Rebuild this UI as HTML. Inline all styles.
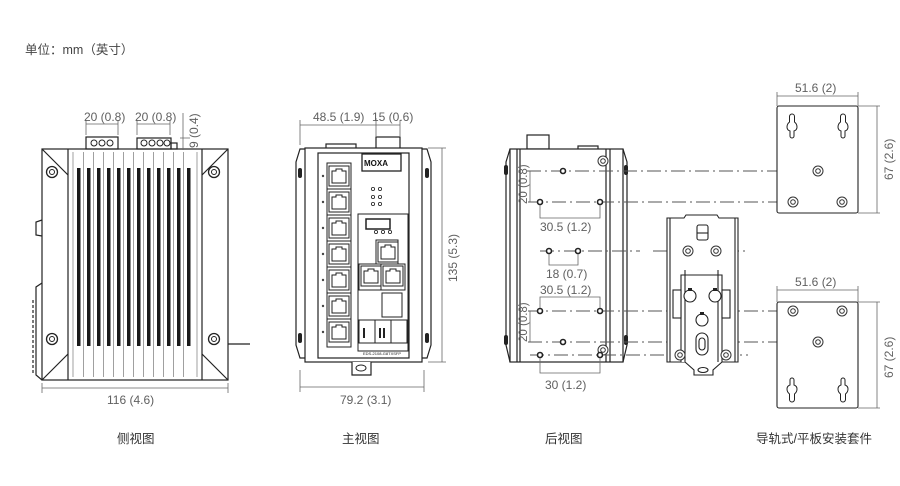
<!DOCTYPE html>
<html><head><meta charset="utf-8"><style>
html,body{margin:0;padding:0;background:#fff;}
svg{display:block;}
text{font-family:"Liberation Sans","Noto Sans CJK SC",sans-serif;fill:#606060;}
</style></head><body>
<svg width="900" height="486" viewBox="0 0 900 486" xmlns="http://www.w3.org/2000/svg">
<defs>
<g id="scr"><circle r="5.5" fill="#fff" stroke="#222" stroke-width="1.3"/><circle r="2.5" fill="none" stroke="#222" stroke-width="1"/></g>
<g id="scr2"><circle r="5" fill="#fff" stroke="#333" stroke-width="1"/><circle r="2.3" fill="none" stroke="#333" stroke-width="1"/></g>
<path id="rj" d="M0 0 H20 V20 H0 Z M3 5 H7 V3 H13 V5 H17 V17 H3 Z" fill="#fff" stroke="#222" stroke-width="1" fill-rule="evenodd"/>
<path id="key" d="M0 -12 a2.5 2.5 0 0 1 2.5 2.5 V-4 Q5 -2 5 1 Q5 4 2 5 V10 a2 2 0 0 1 -4 0 V5 Q-5 4 -5 1 Q-5 -2 -2.5 -4 V-9.5 A2.5 2.5 0 0 1 0 -12Z" fill="#fff" stroke="#222" stroke-width="1"/>
</defs>

<text x="25" y="54" font-size="12.5" style="fill:#444">单位：mm（英寸）</text>

<!-- ============ SIDE VIEW ============ -->
<g stroke="#222" fill="none" stroke-width="1.2">
 <rect x="42" y="149" width="186" height="231" fill="#fff"/>
 <line x1="68" y1="149" x2="68" y2="380"/>
 <line x1="202" y1="149" x2="202" y2="380"/>
 <path d="M42 149 L68 175 M228 149 L202 175 M42 380 L68 354 M228 380 L202 354"/>
 <path d="M42 220 L36 222 V235 L42 236" />
 <path d="M42 283 L36 287 V375 L42 380"/>
 <line x1="33" y1="300" x2="33" y2="375" stroke-dasharray="3 2"/>
 <rect x="86" y="137" width="32" height="12"/>
 <rect x="137" y="138" width="34" height="11"/>
 <rect x="171" y="143" width="6" height="6"/>
 <line x1="228" y1="344" x2="250" y2="344"/>
</g>
<g fill="none" stroke="#222" stroke-width="1">
 <circle cx="94" cy="143" r="3"/><circle cx="102" cy="143" r="3"/><circle cx="110" cy="143" r="3"/>
 <circle cx="144" cy="143" r="3"/><circle cx="152" cy="143" r="3"/><circle cx="160" cy="143" r="3"/><circle cx="167" cy="143" r="3"/>
</g>
<g fill="#1a1a1a">
 <rect x="77" y="168" width="3.5" height="178"/><rect x="87" y="168" width="3.5" height="178"/>
 <rect x="97" y="168" width="3.5" height="178"/><rect x="107" y="168" width="3.5" height="178"/>
 <rect x="117" y="168" width="3.5" height="178"/><rect x="127" y="168" width="3.5" height="178"/>
 <rect x="137" y="168" width="3.5" height="178"/><rect x="147" y="168" width="3.5" height="178"/>
 <rect x="157" y="168" width="3.5" height="178"/><rect x="167" y="168" width="3.5" height="178"/>
 <rect x="177" y="168" width="3.5" height="178"/><rect x="187" y="168" width="3.5" height="178"/>
</g>
<g stroke="#888" stroke-width="0.8">
 <line x1="73" y1="152" x2="73" y2="377"/><line x1="197" y1="152" x2="197" y2="377"/>
 <line x1="83.5" y1="152" x2="83.5" y2="377"/><line x1="93.5" y1="152" x2="93.5" y2="377"/>
 <line x1="103.5" y1="152" x2="103.5" y2="377"/><line x1="113.5" y1="152" x2="113.5" y2="377"/>
 <line x1="123.5" y1="152" x2="123.5" y2="377"/><line x1="133.5" y1="152" x2="133.5" y2="377"/>
 <line x1="143.5" y1="152" x2="143.5" y2="377"/><line x1="153.5" y1="152" x2="153.5" y2="377"/>
 <line x1="163.5" y1="152" x2="163.5" y2="377"/><line x1="173.5" y1="152" x2="173.5" y2="377"/>
 <line x1="183.5" y1="152" x2="183.5" y2="377"/>
</g>
<use href="#scr" x="52" y="172"/><use href="#scr" x="214" y="172"/>
<use href="#scr" x="52" y="339"/><use href="#scr" x="214" y="339"/>
<g stroke="#666" stroke-width="0.8" fill="none">
 <path d="M86 124 H118 M86 120 V135 M118 120 V135"/>
 <path d="M137 124 H170 M137 120 V135 M170 120 V135"/>
 <path d="M183 113 V150 M180 138 H190"/>
 <path d="M42 388 H228 M42 383 V393 M228 383 V393"/>
</g>
<text x="84" y="121" font-size="12">20 (0.8)</text>
<text x="135" y="121" font-size="12">20 (0.8)</text>
<text transform="translate(198,148) rotate(-90)" font-size="12">9 (0.4)</text>
<text x="107" y="404" font-size="12">116 (4.6)</text>

<!-- ============ FRONT VIEW ============ -->
<g stroke="#222" fill="#fff" stroke-width="1.2">
 <rect x="376" y="137" width="24" height="12"/>
 <rect x="326" y="144" width="30" height="5"/>
 <path d="M305 149 H300 L296 162 V345 L300 358 H305"/>
 <path d="M422 149 H427 L431 162 V345 L427 358 H422"/>
 <rect x="305" y="148" width="117" height="214"/>
 <rect x="318" y="153" width="91" height="205"/>
 <path d="M352 362 V375 H371 V362"/>
</g>
<ellipse cx="361" cy="368" rx="5" ry="3" fill="none" stroke="#222"/>
<g fill="#222"><rect x="298" y="168" width="4" height="10" rx="2"/><rect x="425" y="168" width="4" height="10" rx="2"/><rect x="298" y="333" width="4" height="10" rx="2"/><rect x="425" y="333" width="4" height="10" rx="2"/></g>
<g stroke="#222" fill="none" stroke-width="1">
 <rect x="327" y="163" width="24" height="184"/>
 <line x1="327" y1="189" x2="351" y2="189"/><line x1="327" y1="215" x2="351" y2="215"/><line x1="327" y1="241" x2="351" y2="241"/>
 <line x1="327" y1="267" x2="351" y2="267"/><line x1="327" y1="293" x2="351" y2="293"/><line x1="327" y1="319" x2="351" y2="319"/>
 <rect x="362" y="154" width="39" height="17" stroke-width="1.3"/>
 <rect x="358" y="214" width="50" height="137"/>
 <rect x="366" y="219" width="24" height="10" stroke-width="1.5"/>
 <rect x="376" y="240" width="22" height="24"/>
 <rect x="359" y="264" width="22" height="26"/><rect x="381" y="264" width="24" height="26"/>
 <rect x="382" y="293" width="20" height="24"/>
 <rect x="359" y="320" width="16" height="23"/><rect x="375" y="320" width="16" height="23"/><rect x="391" y="320" width="16" height="23"/>
</g>
<use href="#rj" x="329" y="166"/><use href="#rj" x="329" y="192"/><use href="#rj" x="329" y="218"/>
<use href="#rj" x="329" y="244"/><use href="#rj" x="329" y="270"/><use href="#rj" x="329" y="296"/><use href="#rj" x="329" y="322"/>
<use href="#rj" x="378" y="242"/>
<use href="#rj" x="361" y="266"/><use href="#rj" x="383" y="266"/>
<g fill="#222"><rect x="363" y="328" width="2" height="10"/><rect x="379" y="328" width="2" height="10"/><rect x="383" y="328" width="2" height="10"/></g>
<text x="364" y="166" font-size="8" font-weight="bold" style="fill:#111">MOXA</text>
<g fill="none" stroke="#222" stroke-width="0.8">
 <circle cx="373" cy="189" r="1.6"/><circle cx="380" cy="189" r="1.6"/>
 <circle cx="373" cy="197" r="1.6"/><circle cx="380" cy="197" r="1.6"/>
 <circle cx="373" cy="204" r="1.6"/><circle cx="380" cy="204" r="1.6"/>
 <circle cx="376" cy="232" r="1.6"/><circle cx="383" cy="232" r="1.6"/><circle cx="390" cy="232" r="1.6"/>
</g>
<g fill="#444"><circle cx="323" cy="176" r="1.2"/><circle cx="323" cy="202" r="1.2"/><circle cx="323" cy="228" r="1.2"/><circle cx="323" cy="254" r="1.2"/><circle cx="323" cy="280" r="1.2"/><circle cx="323" cy="306" r="1.2"/><circle cx="323" cy="332" r="1.2"/></g>
<text x="363" y="355" font-size="4" style="fill:#222">EDS-2108-G8TXSFP</text>
<g stroke="#666" stroke-width="0.8" fill="none">
 <path d="M300 125 H400 M300 120 V145 M376 118 V136 M400 120 V136"/>
 <path d="M442 148 V362 M428 148 H446 M428 362 H446"/>
 <path d="M300 387 H424 M300 370 V392 M424 370 V392"/>
</g>
<text x="313" y="121" font-size="12">48.5 (1.9)</text>
<text x="372" y="121" font-size="12">15 (0.6)</text>
<text transform="translate(457,282) rotate(-90)" font-size="12">135 (5.3)</text>
<text x="340" y="404" font-size="12">79.2 (3.1)</text>

<!-- ============ REAR VIEW ============ -->
<g stroke="#222" fill="#fff" stroke-width="1.2">
 <rect x="527" y="135" width="22" height="14"/>
 <rect x="578" y="146" width="20" height="4"/>
 <path d="M510 149 L506 162 V345 L510 362"/>
 <path d="M623 149 L627 162 V345 L623 362"/>
 <rect x="510" y="149" width="113" height="213"/>
 <line x1="517" y1="149" x2="517" y2="362"/><line x1="520" y1="149" x2="520" y2="362"/>
 <line x1="606" y1="149" x2="606" y2="362"/><line x1="610" y1="149" x2="610" y2="362"/>
</g>
<g fill="#222"><rect x="504" y="165" width="4" height="10" rx="2"/><rect x="624" y="165" width="4" height="10" rx="2"/><rect x="504" y="335" width="4" height="10" rx="2"/><rect x="624" y="335" width="4" height="10" rx="2"/></g>
<use href="#scr2" x="603" y="161"/>
<use href="#scr2" x="603" y="350"/>

<g stroke="#555" stroke-width="1" stroke-dasharray="14 4 2 4" fill="none">
 <line x1="527" y1="171" x2="828" y2="171"/>
 <line x1="528" y1="202" x2="855" y2="202"/>
 <line x1="540" y1="251" x2="640" y2="251"/>
 <line x1="653" y1="251" x2="748" y2="251"/>
 <line x1="528" y1="311" x2="855" y2="311"/>
 <line x1="528" y1="342" x2="828" y2="342"/>
 <line x1="530" y1="355" x2="748" y2="355"/>
</g>
<g fill="#fff" stroke="#222" stroke-width="1.6">
 <circle cx="563" cy="171" r="2.5"/><circle cx="540" cy="202" r="2.5"/><circle cx="600" cy="202" r="2.5"/>
 <circle cx="549" cy="251" r="2.5"/><circle cx="578" cy="251" r="2.5"/>
 <circle cx="540" cy="311" r="2.5"/><circle cx="600" cy="311" r="2.5"/>
 <circle cx="563" cy="342" r="2.5"/><circle cx="540" cy="355" r="2.5"/><circle cx="600" cy="355" r="2.5"/>
</g>
<g stroke="#666" stroke-width="0.8" fill="none">
 <path d="M530 171 V202"/>
 <path d="M540 205 V218 H600 V205"/>
 <path d="M549 254 V265 H578 V254"/>
 <path d="M540 308 V297 H600 V308"/>
 <path d="M530 311 V342"/>
 <path d="M540 358 V373 H600 V358"/>
</g>
<text transform="translate(527,204) rotate(-90)" font-size="11.5">20 (0.8)</text>
<text transform="translate(527,342) rotate(-90)" font-size="11.5">20 (0.8)</text>
<text x="540" y="231" font-size="12">30.5 (1.2)</text>
<text x="546" y="278" font-size="12">18 (0.7)</text>
<text x="540" y="294" font-size="12">30.5 (1.2)</text>
<text x="545" y="389" font-size="12">30 (1.2)</text>

<!-- ============ DIN RAIL KIT ============ -->
<g stroke="#222" fill="#fff" stroke-width="1.1">
 <path d="M667 218 H684 L686 215 H717 L719 218 H738 V362 H722 L713 370 V375 H694 V370 L685 362 H667 Z"/>
 <line x1="670" y1="218" x2="670" y2="362"/><line x1="735" y1="218" x2="735" y2="362"/>
 <rect x="697" y="225" width="11" height="15" rx="2"/>
 <line x1="697" y1="233" x2="708" y2="233"/>
 <path d="M681 362 V275 H722 V362"/>
 <line x1="685" y1="270" x2="685" y2="362"/><line x1="718" y1="270" x2="718" y2="362"/>
 <rect x="673" y="290" width="8" height="28"/><rect x="722" y="290" width="8" height="28"/>
 <rect x="696" y="333" width="12" height="22" rx="6"/>
 <rect x="699" y="338" width="6" height="12" rx="3"/>
 <ellipse cx="703" cy="370" rx="5" ry="2.5"/>
</g>
<use href="#scr2" x="688" y="251"/><use href="#scr2" x="716" y="251"/>
<use href="#scr2" x="680" y="355"/><use href="#scr2" x="726" y="355"/>
<g fill="#fff" stroke="#222" stroke-width="1.1">
 <circle cx="690" cy="296" r="6"/><circle cx="715" cy="296" r="6"/><circle cx="702" cy="320" r="6"/>
</g>
<g fill="#222"><rect x="688" y="288" width="4" height="3"/><rect x="713" y="288" width="4" height="3"/><rect x="700" y="312" width="4" height="3"/></g>

<!-- ============ PANELS ============ -->
<g stroke="#222" fill="#fff" stroke-width="1.1">
 <rect x="777" y="106" width="81" height="107" rx="2"/>
 <rect x="777" y="302" width="81" height="106" rx="2"/>
</g>
<use href="#key" x="792" y="126"/><use href="#key" x="843" y="126"/>
<use href="#key" transform="rotate(180,792,390)" x="792" y="390"/>
<use href="#key" transform="rotate(180,843,390)" x="843" y="390"/>
<use href="#scr2" x="818" y="171"/><use href="#scr2" x="793" y="202"/><use href="#scr2" x="842" y="202"/>
<use href="#scr2" x="793" y="311"/><use href="#scr2" x="842" y="311"/><use href="#scr2" x="818" y="342"/>
<g stroke="#666" stroke-width="0.8" fill="none">
 <path d="M777 96 H858 M777 92 V106 M858 92 V106"/>
 <path d="M877 106 V213 M858 106 H880 M858 213 H880"/>
 <path d="M777 290 H858 M777 286 V302 M858 286 V302"/>
 <path d="M877 302 V408 M858 302 H880 M858 408 H880"/>
</g>
<text x="795" y="92" font-size="12">51.6 (2)</text>
<text x="795" y="286" font-size="12">51.6 (2)</text>
<text transform="translate(893,180) rotate(-90)" font-size="12">67 (2.6)</text>
<text transform="translate(893,378) rotate(-90)" font-size="12">67 (2.6)</text>

<g font-size="12.5">
 <text x="117" y="443" style="fill:#333">侧视图</text>
 <text x="342" y="443" style="fill:#333">主视图</text>
 <text x="545" y="443" style="fill:#333">后视图</text>
 <text x="756" y="443" style="fill:#333">导轨式/平板安装套件</text>
</g>
</svg>
</body></html>
